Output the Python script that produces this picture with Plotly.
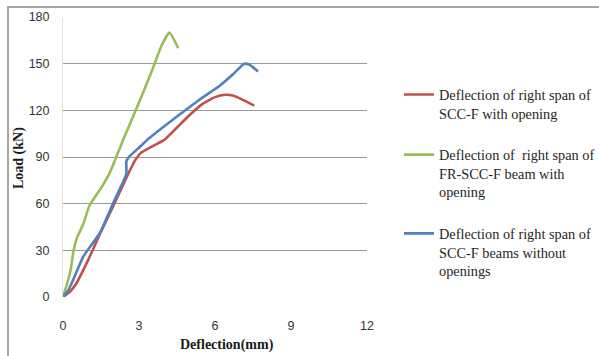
import plotly.graph_objects as go

# Load-deflection curves (deflection in mm, load in kN)
red_defl = [0, 0.25, 0.5, 1.0, 1.5, 2.0, 2.6, 2.85, 3.1, 3.6, 4.0, 4.5, 5.0, 5.5, 6.0, 6.4, 6.7, 7.0, 7.55]
red_load = [0, 3, 8, 24, 42, 59, 80, 88, 93, 97.5, 101, 109, 117, 124, 128.5, 130, 129.5, 127.5, 123]

green_defl = [0, 0.15, 0.3, 0.42, 0.55, 0.8, 1.05, 1.5, 1.85, 2.4, 3.0, 3.5, 3.9, 4.2, 4.55]
green_load = [0, 8, 17, 30, 38, 47, 59, 70, 80, 102, 125, 145, 162, 170, 160]

blue_defl = [0, 0.2, 0.4, 0.8, 1.45, 2.0, 2.5, 2.5, 2.6, 3.0, 3.4, 4.5, 5.4, 6.2, 6.7, 7.15, 7.35, 7.7]
blue_load = [0, 4, 11, 26, 41, 61, 79, 87, 90, 96, 102, 116, 127, 136, 143, 150, 149.5, 145]

names = [
    "Deflection of right span of<br>SCC-F with opening",
    "Deflection of  right span of<br>FR-SCC-F beam with<br>opening",
    "Deflection of right span of<br>SCC-F beams without<br>openings",
]
colors = ["#C0504D", "#9BBB59", "#4F81BD"]

x_ticks = [0, 3, 6, 9, 12]
y_ticks = [0, 30, 60, 90, 120, 150, 180]

fig = go.Figure()
for i, (xs, ys) in enumerate([(red_defl, red_load), (green_defl, green_load), (blue_defl, blue_load)]):
    fig.add_trace(go.Scatter(
        x=xs, y=ys, mode="lines", name=names[i], legendgroup=f"g{i}",
        line=dict(color=colors[i], width=2.6, shape="spline", smoothing=0.4),
    ))

# empty trace that owns the full-page frame axes
fig.add_trace(go.Scatter(x=[], y=[], xaxis="x2", yaxis="y2", showlegend=False, hoverinfo="skip"))

tick_font = dict(family="Liberation Sans, Arial, sans-serif", size=12.5, color="#333333")
title_font = dict(family="Liberation Serif, Times New Roman, serif", size=14, color="#1a1a1a")
frame_color = "#a6a6a6"

frame_axis = dict(
    domain=[0, 1], range=[0, 1], showline=True, linecolor=frame_color, linewidth=1.5,
    showticklabels=False, showgrid=False, zeroline=False, ticks="", fixedrange=True,
)

# The paper area is the chart frame; the plotting region sits inside it via axis domains.
fig.update_layout(
    width=599, height=356,
    margin=dict(l=9, r=0, t=8, b=0, autoexpand=False),
    paper_bgcolor="white", plot_bgcolor="rgba(0,0,0,0)",
    showlegend=True,
    legend=dict(
        x=0.661, xanchor="left", y=0.797, yanchor="top",
        font=dict(family="Liberation Serif, Times New Roman, serif", size=14.3, color="#262626"),
        valign="top", tracegroupgap=20, bgcolor="rgba(0,0,0,0)",
        itemwidth=30,
    ),
    xaxis=dict(
        domain=[0.0915, 0.6068],
        range=[0, 12], tickvals=x_ticks, showgrid=False, zeroline=False,
        showline=False, tickfont=tick_font, ticks="", ticklabelstandoff=19,
        fixedrange=True,
    ),
    yaxis=dict(
        domain=[0.1695, 0.9741],
        range=[0, 180], tickvals=y_ticks, showgrid=True, gridcolor="#999999",
        gridwidth=1, zeroline=False, showline=True, linecolor="#e0e0e0",
        tickfont=tick_font, ticks="", ticklabelstandoff=10,
        fixedrange=True,
    ),
    xaxis2=dict(frame_axis, anchor="y2", side="top"),
    yaxis2=dict(frame_axis, anchor="x2", side="left"),
    annotations=[
        dict(text="<b>Deflection(mm)</b>", x=0.3695, xref="paper", y=0.0316, yref="paper",
             xanchor="center", yanchor="middle", showarrow=False, font=title_font),
        dict(text="<b>Load (kN)</b>", x=0.017, xref="paper", y=0.569, yref="paper",
             xanchor="center", yanchor="middle", textangle=-90, showarrow=False, font=title_font),
    ],
)

fig.write_html("out.html")
